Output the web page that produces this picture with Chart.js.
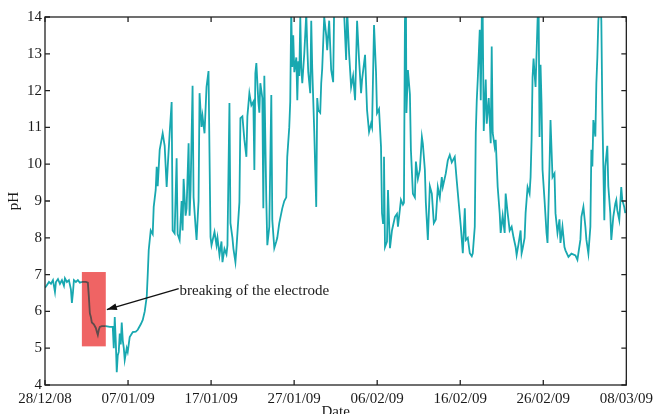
<!DOCTYPE html>
<html>
<head>
<meta charset="utf-8">
<script src="https://cdn.jsdelivr.net/npm/chart.js@4"></script>
<style>
html,body{margin:0;padding:0;background:#fff;}
canvas{display:block;}
</style>
</head>
<body>
<canvas id="c" width="658" height="414"></canvas>
<script>
// Tick labels (dates, every 10 days from 28/12/08)
const dateLabels = ["28/12/08","07/01/09","17/01/09","27/01/09","06/02/09","16/02/09","26/02/09","08/03/09"];
const yTicks = [4,5,6,7,8,9,10,11,12,13,14];

// Time (days since 28/12/08)
const days = [
0,0.24,0.48,0.72,0.96,1.20,1.32,1.56,1.80,2.04,2.28,2.40,2.64,2.88,3.12,3.24,3.36,3.48,3.72,3.96,4.20,4.44,
4.92,5.16,5.28,5.40,5.52,5.64,5.88,6.12,6.24,6.36,6.48,6.60,6.84,7.32,7.80,8.16,8.28,8.40,8.52,8.64,8.76,8.88,
9.00,9.12,9.24,9.37,9.49,9.60,9.84,9.96,10.20,10.57,10.93,11.17,11.53,11.77,12.01,12.25,12.37,12.49,12.73,12.97,
13.09,13.33,13.45,13.57,13.81,14.17,14.41,14.65,14.77,15.01,15.25,15.37,15.61,15.85,15.97,16.21,16.45,16.57,16.69,
16.93,17.05,17.29,17.41,17.53,17.77,17.89,18.13,18.25,18.49,18.61,18.85,18.97,19.21,19.45,19.69,19.93,20.05,20.41,
20.65,20.77,21.01,21.25,21.37,21.61,21.85,21.97,22.21,22.33,22.57,22.69,22.93,23.05,23.41,23.53,23.77,24.01,24.25,
24.37,24.61,24.85,25.09,25.21,25.33,25.45,25.69,25.81,25.93,26.17,26.29,26.41,26.65,26.77,27.01,27.25,27.37,27.61,
27.85,27.97,28.21,28.57,28.81,29.05,29.17,29.41,29.53,29.65,29.77,29.89,30.02,30.26,30.38,30.50,30.62,30.74,30.86,
30.98,31.22,31.46,31.58,31.70,31.94,32.06,32.18,32.42,32.66,32.78,32.90,33.14,33.26,33.38,33.62,33.86,33.98,34.22,
34.46,34.70,34.82,35.18,35.66,36.02,36.26,36.38,36.62,36.86,37.10,37.34,37.58,37.82,38.06,38.18,38.54,38.78,39.02,
39.26,39.38,39.62,39.86,39.98,40.22,40.46,40.58,40.70,40.82,40.94,41.18,41.30,41.54,41.78,42.14,42.38,42.50,42.86,
43.10,43.22,43.34,43.46,43.52,43.70,43.94,44.06,44.30,44.54,44.66,44.90,45.14,45.38,45.50,45.74,45.86,46.10,46.34,
46.58,46.82,47.06,47.30,47.54,47.78,47.90,48.26,48.50,48.74,48.98,49.34,49.58,49.82,50.07,50.19,50.31,50.55,50.67,
50.91,51.15,51.39,51.51,51.75,51.87,51.99,52.11,52.35,52.47,52.59,52.65,52.71,52.83,53.07,53.19,53.43,53.67,53.79,
53.91,54.15,54.27,54.51,54.75,54.87,55.11,55.35,55.47,55.71,55.95,56.19,56.43,56.67,56.79,57.03,57.27,57.39,57.51,
57.75,57.87,58.11,58.35,58.47,58.59,58.71,58.83,58.95,59.07,59.31,59.43,59.55,59.67,59.79,59.91,60.15,60.39,60.51,
60.75,60.87,61.11,61.35,61.47,61.71,61.95,62.07,62.31,62.55,62.67,63.03,63.39,63.87,64.11,64.47,64.59,64.83,65.07,
65.19,65.43,65.67,65.79,65.91,66.03,66.27,66.39,66.51,66.63,66.87,66.99,67.11,67.23,67.35,67.47,67.71,67.83,68.07,
68.19,68.43,68.67,68.79,68.91,69.15,69.39,69.51,69.75,69.87
];

// pH readings
const ph = [
6.64,6.72,6.80,6.75,6.85,6.53,6.80,6.88,6.75,6.85,6.70,6.90,6.80,6.85,6.60,6.23,6.50,6.85,6.80,6.85,6.78,6.80,
6.80,6.78,6.40,5.95,5.85,5.70,5.65,5.55,5.45,5.36,5.50,5.58,5.60,5.60,5.58,5.58,5.00,5.85,5.20,4.35,4.80,4.90,
5.40,5.10,5.70,5.20,5.00,4.68,5.00,4.90,5.30,5.44,5.45,5.50,5.65,5.77,6.00,6.40,7.00,7.67,8.20,8.10,
8.84,9.30,9.93,9.40,10.39,10.84,10.50,9.38,9.90,10.84,11.69,8.20,8.12,10.16,8.10,7.94,9.00,8.20,9.60,
8.60,8.80,10.57,8.60,9.30,12.13,9.10,8.30,7.94,9.00,11.93,11.01,11.30,10.84,12.10,12.53,8.02,7.80,8.16,
7.80,8.00,7.53,7.90,7.34,7.70,7.55,7.80,11.66,8.40,8.00,7.70,7.34,7.70,8.97,11.25,11.30,10.66,10.20,
11.30,11.93,11.60,11.70,9.84,12.47,12.75,11.70,11.40,12.20,11.80,8.80,12.40,9.00,7.80,8.30,11.88,8.48,7.72,
7.90,8.00,8.40,8.80,9.00,9.10,10.20,11.00,11.70,14.20,12.64,13.50,12.50,12.90,11.74,12.80,12.40,14.00,12.60,
12.20,13.00,14.10,13.20,12.50,11.93,13.90,12.60,10.90,8.84,11.80,11.47,11.40,12.20,12.60,14.00,13.50,13.10,13.90,
12.56,12.23,14.30,15.00,15.00,14.10,12.83,14.20,13.00,12.10,12.40,11.74,13.90,12.83,11.93,12.30,12.97,11.47,10.88,
11.10,11.00,13.78,12.50,11.39,11.50,10.47,8.67,8.40,10.20,7.75,7.90,9.30,7.72,8.20,8.57,8.65,8.30,9.03,
8.90,8.95,13.90,14.50,11.39,12.56,11.90,10.39,9.20,9.10,10.07,9.60,9.85,10.74,10.55,9.85,8.95,7.94,9.40,
9.20,8.40,8.50,9.38,9.10,9.65,9.38,9.75,10.10,10.25,10.05,10.20,9.55,8.94,8.30,7.94,7.58,8.80,7.94,
8.00,7.58,7.50,7.58,8.30,10.84,11.74,12.30,13.65,11.74,13.90,14.50,13.90,10.90,12.30,11.10,11.80,10.57,13.20,
10.85,10.47,10.66,9.38,8.67,8.13,8.60,8.13,9.20,8.67,8.20,8.30,8.00,7.75,7.53,7.85,8.20,7.58,7.70,
8.00,8.67,9.38,9.20,9.65,10.66,12.37,12.87,12.45,12.10,13.90,14.50,10.74,12.70,11.66,9.85,9.03,8.13,7.86,
9.94,11.20,9.65,9.75,8.67,8.13,8.50,7.86,8.30,7.75,7.66,7.48,7.57,7.52,7.40,7.95,8.57,8.84,8.30,
7.95,7.57,8.30,10.39,9.94,11.20,10.75,12.20,12.90,13.90,14.50,13.90,11.47,9.94,8.48,9.94,10.50,9.40,8.67,
7.94,8.57,8.93,9.03,8.75,8.48,9.38,9.03,8.84,8.67
];

// Annotation (in data units)
const markBox = {x0:4.44, x1:7.32, y0:5.05, y1:7.07};
const arrowTail = {x:16.1, y:6.62};
const arrowTip = {x:7.45, y:6.05};
const noteText = "breaking of the electrode";
const noteAt = {x:16.2, y:6.45};

const TEAL = 'rgb(24,168,176)';
const DARK = 'rgb(95,75,75)';
const FONT = '"Liberation Serif", "Times New Roman", serif';
const inBox = v => v >= markBox.x0 && v <= markBox.x1 + 0.01;

const framePlugin = {
  id: 'frame',
  beforeDatasetsDraw(chart) {
    const {ctx, scales:{x, y}} = chart;
    ctx.save();
    ctx.fillStyle = 'rgba(238,92,92,0.95)';
    const bx0 = x.getPixelForValue(markBox.x0), bx1 = x.getPixelForValue(markBox.x1);
    const by0 = y.getPixelForValue(markBox.y1), by1 = y.getPixelForValue(markBox.y0);
    ctx.fillRect(bx0, by0, bx1 - bx0, by1 - by0);
    ctx.restore();
  },
  afterDraw(chart) {
    const {ctx, chartArea:a, scales:{x, y}} = chart;
    ctx.save();
    ctx.strokeStyle = '#222';
    ctx.lineWidth = 1.3;
    ctx.strokeRect(a.left, a.top, a.right - a.left, a.bottom - a.top);
    const tl = 5;
    ctx.beginPath();
    for (let i = 0; i < dateLabels.length; i++) {
      const px = x.getPixelForValue(i * 10);
      ctx.moveTo(px, a.bottom); ctx.lineTo(px, a.bottom - tl);
      ctx.moveTo(px, a.top); ctx.lineTo(px, a.top + tl);
    }
    for (const v of yTicks) {
      const py = y.getPixelForValue(v);
      ctx.moveTo(a.left, py); ctx.lineTo(a.left + tl, py);
      ctx.moveTo(a.right, py); ctx.lineTo(a.right - tl, py);
    }
    ctx.stroke();

    // axis titles
    ctx.fillStyle = '#1a1a1a';
    ctx.font = '15px ' + FONT;
    ctx.textAlign = 'center';
    ctx.textBaseline = 'middle';
    ctx.fillText('Date', (a.left + a.right) / 2, 412);
    ctx.save();
    ctx.translate(14, (a.top + a.bottom) / 2);
    ctx.rotate(-Math.PI / 2);
    ctx.fillText('pH', 0, 0);
    ctx.restore();

    // annotation arrow + text
    const tx = x.getPixelForValue(arrowTail.x), ty = y.getPixelForValue(arrowTail.y);
    const hx = x.getPixelForValue(arrowTip.x), hy = y.getPixelForValue(arrowTip.y);
    ctx.strokeStyle = '#111';
    ctx.lineWidth = 1.4;
    ctx.beginPath(); ctx.moveTo(tx, ty); ctx.lineTo(hx, hy); ctx.stroke();
    const ang = Math.atan2(hy - ty, hx - tx);
    const L = 10, W = 3.5;
    ctx.fillStyle = '#111';
    ctx.beginPath();
    ctx.moveTo(hx, hy);
    ctx.lineTo(hx - L * Math.cos(ang) + W * Math.sin(ang), hy - L * Math.sin(ang) - W * Math.cos(ang));
    ctx.lineTo(hx - L * Math.cos(ang) - W * Math.sin(ang), hy - L * Math.sin(ang) + W * Math.cos(ang));
    ctx.closePath(); ctx.fill();
    ctx.fillStyle = '#1a1a1a';
    ctx.font = '15px ' + FONT;
    ctx.textAlign = 'left';
    ctx.textBaseline = 'alphabetic';
    ctx.fillText(noteText, x.getPixelForValue(noteAt.x), y.getPixelForValue(noteAt.y));
    ctx.restore();
  }
};

new Chart(document.getElementById('c'), {
  type: 'line',
  data: {
    datasets: [{
      data: days.map((d, i) => ({x: d, y: ph[i]})),
      borderColor: TEAL,
      borderWidth: 1.8,
      pointRadius: 0,
      tension: 0,
      fill: false,
      segment: {
        borderColor: c => (inBox(c.p0.parsed.x) && inBox(c.p1.parsed.x)) ? DARK : undefined
      }
    }]
  },
  options: {
    responsive: false,
    animation: false,
    layout: {padding: {left: 0, right: 30, top: 17, bottom: 0}},
    plugins: {legend: {display: false}, tooltip: {enabled: false}},
    scales: {
      x: {
        type: 'linear', min: 0, max: 70,
        grid: {display: false, drawTicks: false},
        border: {display: false},
        ticks: {
          stepSize: 10, autoSkip: false, maxRotation: 0, padding: 5,
          color: '#1a1a1a', font: {family: FONT, size: 15},
          callback: v => dateLabels[Math.round(v / 10)]
        },
        afterFit(s) { s.height = 29; }
      },
      y: {
        min: 4, max: 14,
        grid: {display: false, drawTicks: false},
        border: {display: false},
        ticks: {
          stepSize: 1, padding: 3,
          color: '#1a1a1a', font: {family: FONT, size: 15}
        },
        afterFit(s) { s.width = 45; }
      }
    }
  },
  plugins: [framePlugin]
});
</script>
</body>
</html>
